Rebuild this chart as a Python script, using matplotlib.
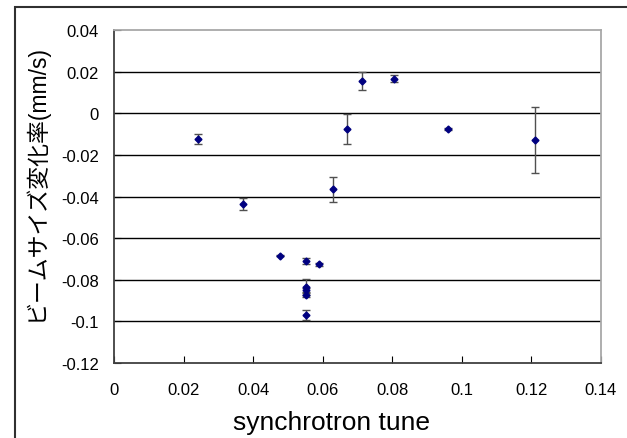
import matplotlib.pyplot as plt
from matplotlib.patches import Rectangle

plt.rcParams["font.family"] = ["Liberation Sans", "Noto Sans CJK JP", "DejaVu Sans"]

# synchrotron tune vs. beam size change rate (mm/s)
tune = [0.0242, 0.0370, 0.0477, 0.0552, 0.0552, 0.0552, 0.0552, 0.0552,
        0.0589, 0.0629, 0.0669, 0.0713, 0.0806, 0.0959, 0.1210]
rate = [-0.0124, -0.0435, -0.0685, -0.0709, -0.0835, -0.0848, -0.0872, -0.0968,
        -0.0726, -0.0366, -0.0077, 0.0155, 0.0166, -0.0077, -0.0129]
err = [0.0026, 0.0030, 0.0003, 0.0014, 0.0040, 0.0010, 0.0010, 0.0023,
       0.0007, 0.0060, 0.0073, 0.0044, 0.0018, 0.0004, 0.0157]

xticks = [0, 0.02, 0.04, 0.06, 0.08, 0.1, 0.12, 0.14]
yticks = [0.04, 0.02, 0, -0.02, -0.04, -0.06, -0.08, -0.1, -0.12]

fig = plt.figure(figsize=(6.27, 4.39), dpi=100)
ax = fig.add_axes([0.1818, 0.1708, 0.7767, 0.7585])

for y in yticks[1:-1]:
    ax.axhline(y, color="black", linewidth=1.0, zorder=1)

ax.errorbar(tune, rate, yerr=err, fmt="D", color="#000080", markersize=3.5,
            ecolor="#505050", elinewidth=1.0, capsize=2.6, capthick=1.0, zorder=3)

ax.set_xlim(0, 0.14)
ax.set_ylim(-0.12, 0.04)
ax.set_xticks(xticks)
ax.set_xticklabels([f"{v:g}" for v in xticks])
ax.set_yticks(yticks)
ax.set_yticklabels([f"{v:g}" for v in yticks])
ax.tick_params(axis="x", direction="in", length=5, pad=14, labelsize=12)
ax.tick_params(axis="y", direction="in", length=5, pad=11, labelsize=12)

for side in ("left", "bottom"):
    ax.spines[side].set_color("#404040")
    ax.spines[side].set_linewidth(1.3)
for side in ("top", "right"):
    ax.spines[side].set_color("#a8a8a8")
    ax.spines[side].set_linewidth(1.3)

ax.set_xlabel("synchrotron tune", fontsize=19)
ax.xaxis.set_label_coords(0.4476, -0.142)
ax.set_ylabel("ビームサイズ変化率(mm/s)", fontsize=16.5)
ax.yaxis.set_label_coords(-0.1355, 0.545)

# outer chart frame (cut off at right and bottom)
fig.patches.append(Rectangle((15 / 627, -0.05), 1.0, 1 - 8 / 439 + 0.05,
                             transform=fig.transFigure, fill=False,
                             edgecolor="#303030", linewidth=1.5))

fig.savefig("out.png", dpi=100)
